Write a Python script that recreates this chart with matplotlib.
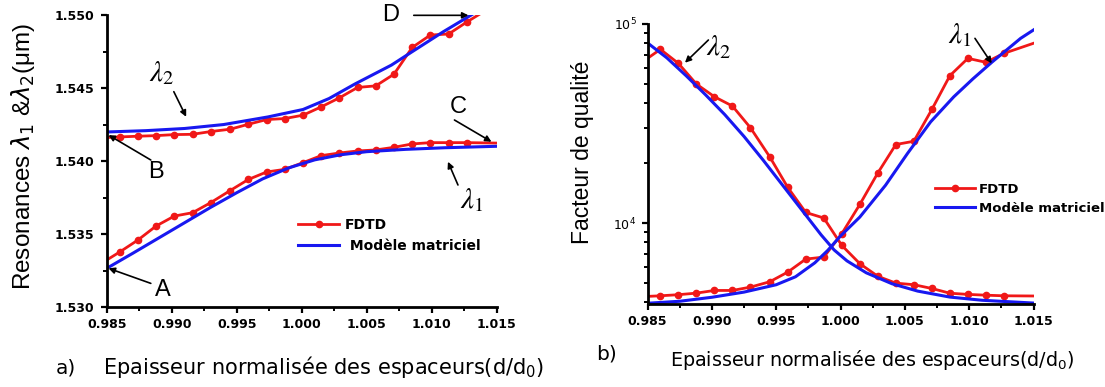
import numpy as np
import matplotlib
matplotlib.use("Agg")
import matplotlib.pyplot as plt
from matplotlib.ticker import MultipleLocator, FormatStrFormatter, LogLocator, NullFormatter, FixedLocator, FixedFormatter

# ---------------- data ----------------
# FDTD sample positions (normalised spacer thickness)
x_fdtd = [0.9860, 0.9874, 0.9888, 0.9902, 0.9916, 0.9930, 0.9945, 0.9959, 0.9973, 0.9987,
          1.0001, 1.0015, 1.0029, 1.0043, 1.0057, 1.0071, 1.0085, 1.0099, 1.0113, 1.0127]
x_edges = [0.985, 1.015]

# (a) resonance wavelengths, FDTD
lam2_fdtd = [1.54167, 1.54172, 1.54176, 1.54183, 1.54185, 1.54204, 1.54220, 1.54254, 1.54286, 1.54293,
             1.54316, 1.54373, 1.54435, 1.54506, 1.54517, 1.54597, 1.54780, 1.54865, 1.54872, 1.54954]
lam2_fdtd_edges = [1.54163, 1.55080]
lam1_fdtd = [1.53379, 1.53461, 1.53557, 1.53625, 1.53648, 1.53717, 1.53800, 1.53876, 1.53927, 1.53945,
             1.53991, 1.54039, 1.54057, 1.54071, 1.54078, 1.54096, 1.54119, 1.54128, 1.54128, 1.54128]
lam1_fdtd_edges = [1.53324, 1.54125]

# (a) resonance wavelengths, matrix model
x_mod_l2 = [0.9850, 0.9880, 0.9910, 0.9940, 0.9974, 1.0001, 1.0021, 1.0041, 1.0069, 1.0085, 1.0109, 1.0130, 1.0150]
lam2_mod = [1.54201, 1.54210, 1.54225, 1.54252, 1.54304, 1.54355, 1.54430, 1.54530, 1.54659, 1.54751, 1.54888, 1.55000, 1.55110]
x_mod_l1 = [0.9850, 0.9870, 0.9890, 0.9910, 0.9930, 0.9950, 0.9970, 0.9990, 1.0010, 1.0030, 1.0050, 1.0080, 1.0110, 1.0150]
lam1_mod = [1.53267, 1.53370, 1.53475, 1.53580, 1.53685, 1.53785, 1.53880, 1.53955, 1.54010, 1.54045, 1.54066, 1.54082, 1.54093, 1.54103]

# (b) quality factor, FDTD
q2_fdtd = [74600, 63400, 49900, 43100, 38700, 30100, 21500, 15100, 11300, 10600,
           7720, 6250, 5400, 4990, 4900, 4690, 4440, 4380, 4340, 4310]
q2_fdtd_edges = [67200, 4300]
q1_fdtd = [4310, 4365, 4445, 4585, 4585, 4765, 5070, 5670, 6590, 6745,
           8840, 12400, 17850, 24800, 25760, 37200, 55000, 67200, 64200, 71200]
q1_fdtd_edges = [4280, 80000]

# (b) quality factor, matrix model (values read as log10 Q)
x_mq1 = [0.9850, 0.9875, 0.9900, 0.9925, 0.9950, 0.9965, 0.9980, 0.9990, 1.0000, 1.0015,
         1.0035, 1.0052, 1.0070, 1.0088, 1.0103, 1.0118, 1.0140, 1.0150]
logq1_mod = [3.597, 3.607, 3.627, 3.653, 3.690, 3.730, 3.800, 3.862, 3.935, 4.030,
             4.190, 4.349, 4.508, 4.634, 4.725, 4.810, 4.928, 4.970]
x_mq2 = [0.9850, 0.9865, 0.9880, 0.9895, 0.9910, 0.9925, 0.9940, 0.9955, 0.9970, 0.9985,
         0.9995, 1.0005, 1.0020, 1.0040, 1.0060, 1.0085, 1.0110, 1.0150]
logq2_mod = [4.905, 4.830, 4.740, 4.645, 4.545, 4.435, 4.315, 4.190, 4.065, 3.940,
             3.865, 3.810, 3.750, 3.695, 3.658, 3.628, 3.612, 3.598]

xticks = [0.985, 0.990, 0.995, 1.000, 1.005, 1.010, 1.015]
yticks_a = [1.530, 1.535, 1.540, 1.545, 1.550]
yticks_b = [1e4, 1e5]
yticklabels_b = [r"$10^4$", r"$10^5$"]

RED = "#f01818"
BLUE = "#1818f0"

def full(xs, ys, edges_y):
    return [x_edges[0]] + list(xs) + [x_edges[1]], [edges_y[0]] + list(ys) + [edges_y[1]]

fig = plt.figure(figsize=(11.05, 3.87), dpi=100)
axa = fig.add_axes([0.0966, 0.2059, 0.3529, 0.7545])
axb = fig.add_axes([0.5860, 0.2145, 0.3493, 0.7235])

tickfont = dict(family="DejaVu Sans", weight="bold", size=9)

for ax in (axa, axb):
    for s in ("top", "right"):
        ax.spines[s].set_visible(False)
    for s in ("left", "bottom"):
        ax.spines[s].set_linewidth(2.0)
    ax.tick_params(which="major", direction="out", length=4, width=1.6, pad=4)
    ax.tick_params(which="minor", direction="out", length=3, width=1.4)
    ax.set_xlim(0.985, 1.015)
    ax.xaxis.set_major_locator(FixedLocator(xticks))
    ax.xaxis.set_major_formatter(FormatStrFormatter("%.3f"))
    ax.xaxis.set_minor_locator(MultipleLocator(0.0025))

# ---- panel a ----
mk = dict(marker="o", markersize=4.5, markevery=slice(1, -1))
xx, yy = full(x_fdtd, lam2_fdtd, lam2_fdtd_edges)
axa.plot(xx, yy, color=RED, lw=2.0, **mk)
xx, yy = full(x_fdtd, lam1_fdtd, lam1_fdtd_edges)
l_fdtd, = axa.plot(xx, yy, color=RED, lw=2.0, **mk)
axa.plot(x_mod_l2, lam2_mod, color=BLUE, lw=2.2)
l_mod, = axa.plot(x_mod_l1, lam1_mod, color=BLUE, lw=2.2)
axa.set_ylim(1.530, 1.550)
axa.yaxis.set_major_locator(FixedLocator(yticks_a))
axa.yaxis.set_major_formatter(FormatStrFormatter("%.3f"))
axa.yaxis.set_minor_locator(MultipleLocator(0.0025))
axa.tick_params(axis="y", which="major", pad=5)
for lab in axa.get_xticklabels() + axa.get_yticklabels():
    lab.set(**tickfont)

axa.legend([l_fdtd, l_mod], ["FDTD", " Modèle matriciel"], loc="upper left",
           bbox_to_anchor=(0.49, 0.305), frameon=False, borderpad=0, borderaxespad=0,
           handlelength=3.0, handletextpad=0.4, labelspacing=0.5,
           prop=dict(family="DejaVu Sans", weight="bold", size=10))

arrow = dict(arrowstyle="-|>", color="black", lw=1.2, mutation_scale=9, shrinkA=0, shrinkB=0)
letter = dict(family="Liberation Sans", size=17, ha="center", va="center")
lamfont = dict(size=21, ha="center", va="center", math_fontfamily="stix")

axa.text(0.98921, 1.54603, r"$\lambda_2$", **lamfont)
axa.annotate("", xy=(0.99111, 1.54305), xytext=(0.99016, 1.54477), arrowprops=arrow, annotation_clip=False)
axa.text(0.9888, 1.53929, "B", **letter)
axa.annotate("", xy=(0.98514, 1.5418), xytext=(0.98839, 1.54009), arrowprops=arrow, annotation_clip=False)
axa.text(0.98935, 1.53118, "A", **letter)
axa.annotate("", xy=(0.98514, 1.53267), xytext=(0.98839, 1.53164), arrowprops=arrow, annotation_clip=False)
axa.text(1.01202, 1.54374, "C", **letter)
axa.annotate("", xy=(1.0146, 1.54134), xytext=(1.01175, 1.54283), arrowprops=arrow, annotation_clip=False)
axa.text(1.00685, 1.55002, "D", **letter)
axa.annotate("", xy=(1.01283, 1.5500), xytext=(1.00862, 1.5500), arrowprops=arrow, annotation_clip=False)
axa.text(1.0131, 1.53735, r"$\lambda_1$", **lamfont)
axa.annotate("", xy=(1.01125, 1.53997), xytext=(1.01202, 1.53838), arrowprops=arrow, annotation_clip=False)

# ---- panel b ----
xx, yy = full(x_fdtd, q2_fdtd, q2_fdtd_edges)
axb.plot(xx, yy, color=RED, lw=2.0, **mk)
xx, yy = full(x_fdtd, q1_fdtd, q1_fdtd_edges)
m_fdtd, = axb.plot(xx, yy, color=RED, lw=2.0, **mk)
axb.plot(x_mq2, np.power(10.0, logq2_mod), color=BLUE, lw=2.2)
m_mod, = axb.plot(x_mq1, np.power(10.0, logq1_mod), color=BLUE, lw=2.2)
axb.set_yscale("log")
axb.set_ylim(3920, 1e5)
axb.yaxis.set_major_locator(FixedLocator(yticks_b))
axb.yaxis.set_major_formatter(FixedFormatter(yticklabels_b))
axb.yaxis.set_minor_locator(LogLocator(base=10, subs=np.arange(2, 10)))
axb.yaxis.set_minor_formatter(NullFormatter())
for lab in axb.get_xticklabels():
    lab.set(**tickfont)
for lab in axb.get_yticklabels():
    lab.set(family="DejaVu Sans", size=9)

axb.legend([m_fdtd, m_mod], ["FDTD", "Modèle matriciel"], loc="upper left",
           bbox_to_anchor=(0.745, 0.433), frameon=False, borderpad=0, borderaxespad=0,
           handlelength=3.0, handletextpad=0.3, labelspacing=0.45,
           prop=dict(family="DejaVu Sans", weight="bold", size=9.5))

axb.text(0.99050, 76900, r"$\lambda_2$", **lamfont)
axb.annotate("", xy=(0.98791, 63900), xytext=(0.98973, 83100), arrowprops=arrow, annotation_clip=False)
axb.text(1.00929, 88000, r"$\lambda_1$", **lamfont)
axb.annotate("", xy=(1.01175, 63400), xytext=(1.01045, 84700), arrowprops=arrow, annotation_clip=False)

# ---- labels ----
fig.text(0.0208, 1 - 157 / 387, r"Resonances $\lambda_1$ &$\lambda_2$(μm)", rotation=90,
         ha="center", va="center", family="Liberation Sans", size=17.5)
fig.text(0.5267, 1 - 152 / 387, "Facteur de qualité", rotation=90,
         ha="center", va="center", family="Liberation Sans", size=16.5)
fig.text(0.0597, 1 - 374 / 387, "a)", ha="center", va="baseline", family="DejaVu Sans", size=14.5)
fig.text(324 / 1105, 1 - 374 / 387, r"Epaisseur normalisée des espaceurs(d/d$_0$)", ha="center",
         va="baseline", family="DejaVu Sans", size=15)
fig.text(606 / 1105, 1 - 360 / 387, "b)", ha="center", va="baseline", family="DejaVu Sans", size=14.5)
fig.text(871.8 / 1105, 1 - 366 / 387, r"Epaisseur normalisée des espaceurs(d/d$_0$)", ha="center",
         va="baseline", family="DejaVu Sans", size=13.8)

fig.savefig("out.png", dpi=100)
